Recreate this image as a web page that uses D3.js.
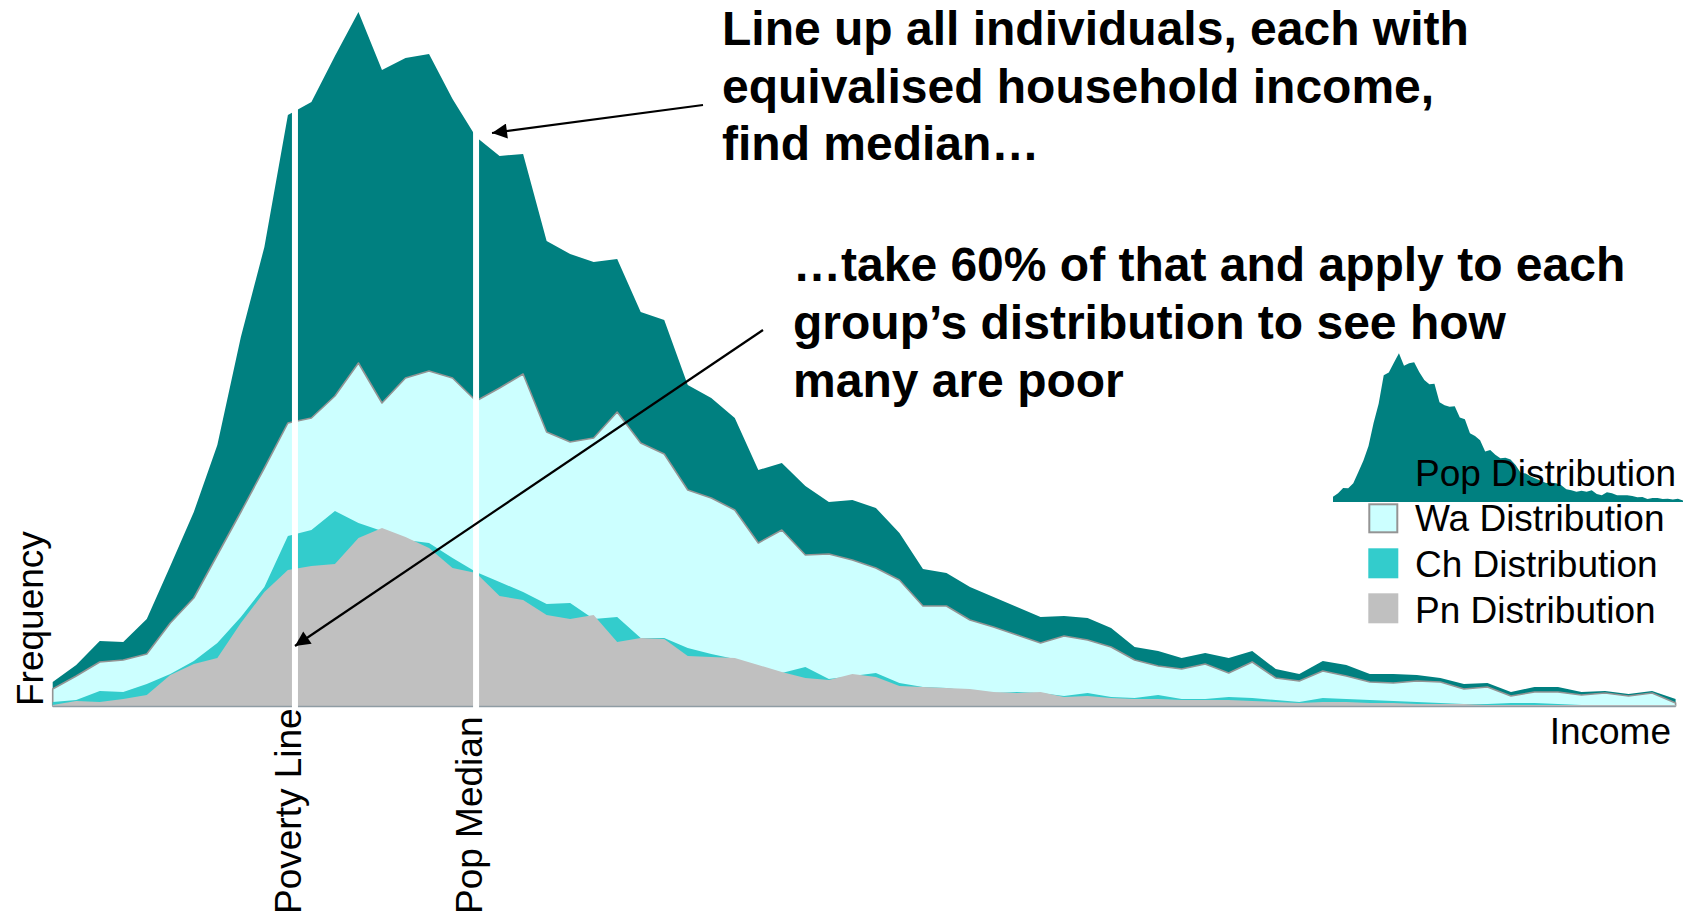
<!DOCTYPE html>
<html><head><meta charset="utf-8">
<script src="https://cdn.jsdelivr.net/npm/d3@7"></script>
<style>html,body{margin:0;padding:0;background:#fff;overflow:hidden}</style>
</head><body>
<svg id="chart" width="1690" height="917"></svg>
<script>
// ---- data (frequency per income bin, arbitrary units) ----
const popValues = [24,41,65,64,87,140,194,261,369,459,591,604,650,694,636,648,652,607,569,550,
  552,465,452,444,447,394,386,321,308,288,236,243,220,204,206,198,173,137,133,119,
  109,99,89,90,88,78,59,55,48,53,48,55,37,32,45,41,32,32,31,28,
  22,23,14,19,19,14,15,12,15,7];
const waValues = [17,30,44,46,52,83,108,151,194,238,283,288,310,343,303,328,335,328,305,318,
  332,274,264,268,294,263,252,216,208,196,163,176,151,152,146,138,126,100,100,86,
  79,71,63,70,66,59,46,40,37,42,33,44,28,25,35,30,24,23,25,24,
  17,19,10,14,14,11,13,10,13,3];
const chValues = [4,6,15,14,22,32,45,63,89,119,170,176,195,183,175,166,163,148,134,124,
  114,102,103,87,89,68,68,58,52,47,40,33,39,27,30,33,23,19,18,15,
  13,14,13,10,13,9,8,11,7,7,9,8,6,4,8,7,6,5,4,3,
  2,2,3,3,2,1,1,1,1,1];
const pnValues = [1,5,4,7,11,31,42,48,83,114,136,140,142,168,178,169,158,138,133,110,
  106,91,87,91,64,68,67,50,49,48,41,34,28,26,32,29,20,19,18,17,
  14,13,14,9,10,8,7,7,6,6,6,5,4,3,4,4,3,3,2,2,
  2,1,1,1,1,1,1,1,1,1];
const incomeBins = d3.range(popValues.length);
const markerBins = [10.3, 18];
const markerLabels = ["Poverty Line", "Pop Median"];
const seriesNames = ["Pop Distribution", "Wa Distribution", "Ch Distribution", "Pn Distribution"];
const seriesColors = ["#008080", "#CCFFFF", "#33CCCC", "#C0C0C0"];
const titleLines1 = ["Line up all individuals, each with", "equivalised household income,", "find median\u2026"];
const titleLines2 = ["\u2026take 60% of that and apply to each", "group\u2019s distribution to see how", "many are poor"];
const xLabel = "Income", yLabel = "Frequency";

// ---- drawing ----
const svg = d3.select("#chart");
const FONT = "'Liberation Sans', Arial, sans-serif";
const x = d3.scaleLinear().domain([0, incomeBins.length - 1]).range([52.7, 1675.6]);
const y = d3.scaleLinear().domain([0, 700]).range([706, 6]);

const area = vals => d3.area().x((d, i) => x(incomeBins[i])).y0(y(0)).y1((d) => y(d))(vals);

svg.append("path").attr("d", area(popValues)).attr("fill", seriesColors[0]);
svg.append("path").attr("d", area(waValues)).attr("fill", seriesColors[1])
  .attr("stroke", "#949494").attr("stroke-width", 1.6).attr("stroke-linejoin", "round");
svg.append("path").attr("d", area(chValues)).attr("fill", seriesColors[2]);
svg.append("path").attr("d", area(pnValues)).attr("fill", seriesColors[3]);

// baseline axis
svg.append("line").attr("x1", x(0)).attr("x2", x(incomeBins.length - 1))
  .attr("y1", y(0)+0.5).attr("y2", y(0)+0.5).attr("stroke", "#8f9ca4").attr("stroke-width", 1.5);

// marker lines
markerBins.forEach((b, i) => {
  svg.append("line").attr("x1", x(b)).attr("x2", x(b)).attr("y1", 0).attr("y2", y(0) + 3)
    .attr("stroke", "#fff").attr("stroke-width", 6);
  svg.append("text").text(markerLabels[i])
    .attr("transform", `translate(${x(b) + 6},914) rotate(-90)`)
    .attr("font-family", FONT).attr("font-size", 37).attr("fill", "#000");
});

// axis labels
svg.append("text").text(yLabel).attr("transform", "translate(43,706) rotate(-90)")
  .attr("font-family", FONT).attr("font-size", 37);
svg.append("text").text(xLabel).attr("x", 1671).attr("y", 744).attr("text-anchor", "end")
  .attr("font-family", FONT).attr("font-size", 37);

// arrows
const defs = svg.append("defs");
defs.append("marker").attr("id", "ah").attr("viewBox", "0 0 10 10").attr("refX", 10).attr("refY", 5)
  .attr("markerWidth", 17).attr("markerHeight", 15).attr("markerUnits", "userSpaceOnUse").attr("orient", "auto")
  .append("path").attr("d", "M0,0 L10,5 L0,10 Z").attr("fill", "#000");
svg.append("line").attr("x1", 703).attr("y1", 105).attr("x2", 492).attr("y2", 133)
  .attr("stroke", "#000").attr("stroke-width", 2.2).attr("marker-end", "url(#ah)");
svg.append("line").attr("x1", 763).attr("y1", 330).attr("x2", 295).attr("y2", 646)
  .attr("stroke", "#000").attr("stroke-width", 2.2).attr("marker-end", "url(#ah)");

// titles
titleLines1.forEach((t, i) => svg.append("text").text(t).attr("x", 722).attr("y", 45 + i * 57.5)
  .attr("font-family", FONT).attr("font-weight", "bold").attr("font-size", 48));
titleLines2.forEach((t, i) => svg.append("text").text(t).attr("x", 793).attr("y", 281 + i * 58)
  .attr("font-family", FONT).attr("font-weight", "bold").attr("font-size", 48));

// legend: mini pop distribution
const lx = d3.scaleLinear().domain([0, incomeBins.length - 1]).range([1333, 1683]);
const ly = d3.scaleLinear().domain([0, 700]).range([502, 352]);
svg.append("path").attr("d", d3.area().x((d, i) => lx(incomeBins[i])).y0(ly(0)).y1(d => ly(d))(popValues))
  .attr("fill", seriesColors[0]);
const legendY = [486, 530.5, 577, 622.5];
svg.append("text").text(seriesNames[0]).attr("x", 1415).attr("y", legendY[0])
  .attr("font-family", FONT).attr("font-size", 37);
const boxY = [null, 504.3, 549.3, 594.3];
[1, 2, 3].forEach(k => {
  svg.append("rect").attr("x", k === 1 ? 1369.3 : 1368.3).attr("y", k === 1 ? boxY[k] : boxY[k] - 1)
    .attr("width", k === 1 ? 28 : 30).attr("height", k === 1 ? 28 : 30)
    .attr("fill", seriesColors[k]).attr("stroke", k === 1 ? "#949494" : "none").attr("stroke-width", 2);
  svg.append("text").text(seriesNames[k]).attr("x", 1415).attr("y", legendY[k])
    .attr("font-family", FONT).attr("font-size", 37);
});
</script>
</body></html>
